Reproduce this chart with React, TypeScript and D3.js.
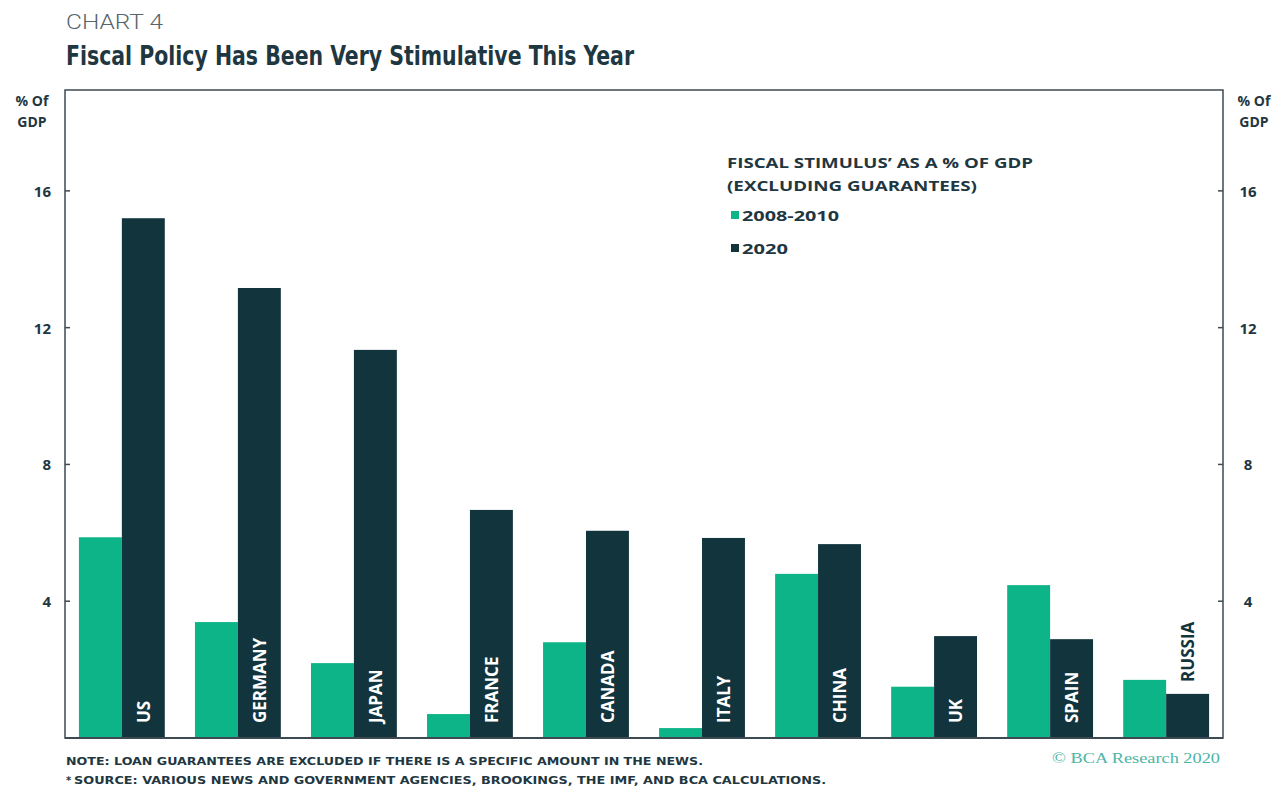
import React from "react";
import * as d3 from "d3";

const countries = ["US", "GERMANY", "JAPAN", "FRANCE", "CANADA", "ITALY", "CHINA", "UK", "SPAIN", "RUSSIA"];
const series2008 = [5.87, 3.39, 2.19, 0.7, 2.8, 0.29, 4.8, 1.5, 4.47, 1.7];
const series2020 = [15.2, 13.16, 11.35, 6.67, 6.06, 5.85, 5.67, 2.98, 2.89, 1.29];
const seriesNames = ["2008-2010", "2020"];
const yTicks = [4, 8, 12, 16];

const W = 1278;
const H = 788;
const left = 65;
const right = 1223;
const top = 90;
const bottom = 738;

const GREEN = "#0db488";
const DARK = "#11343d";
const INK = "#1f3741";
const AXIS = "#3d4a52";

const condensed = "'Liberation Sans Narrow', 'DejaVu Sans Condensed', 'Roboto', sans-serif";
const wide = "'Open Sans', 'DejaVu Sans', sans-serif";

export default function App() {
  const x = d3.scaleBand<string>().domain(countries).range([left, right]).paddingInner(0.26).paddingOuter(0.12);
  const xInner = d3.scaleBand<string>().domain(seriesNames).range([0, x.bandwidth()]).padding(0);
  const y = d3.scaleLinear().domain([0, 18.95]).range([bottom, top]);
  const colors = [GREEN, DARK];
  const data = [series2008, series2020];
  const legendLens = [97, 46];

  return (
    <svg width={W} height={H} style={{ position: "absolute", left: 0, top: 0, background: "#fff" }}>
      <rect x={0} y={0} width={W} height={H} fill="#fff" />
      {/* Titles */}
      <text x={66} y={29} fontFamily="'Roboto', 'Liberation Sans', sans-serif" fontWeight={300} fontSize={20} fill="#56646b" textLength={97} lengthAdjust="spacingAndGlyphs">CHART 4</text>
      <text x={66} y={65} fontFamily={condensed} fontWeight={700} fontSize={26} fill={INK} textLength={568} lengthAdjust="spacingAndGlyphs">Fiscal Policy Has Been Very Stimulative This Year</text>

      {/* Bars */}
      {countries.map((c, i) => (
        <g key={c}>
          {data.map((s, j) => {
            const bx = (x(c) as number) + (xInner(seriesNames[j]) as number);
            return (
              <rect key={j} x={bx} y={y(s[i])} width={xInner.bandwidth()} height={y(0) - y(s[i])} fill={colors[j]} />
            );
          })}
        </g>
      ))}

      {/* Category labels */}
      {countries.map((c, i) => {
        const cx = (x(c) as number) + (xInner("2020") as number) + xInner.bandwidth() / 2;
        const barH = y(0) - y(series2020[i]);
        const approxLen = c.length * 12 + 10;
        const inside = barH > approxLen + 20;
        const ty = inside ? y(0) - 15 : y(series2020[i]) - 12;
        return (
          <text
            key={c}
            transform={`translate(${cx},${ty}) rotate(-90)`}
            dominantBaseline="central"
            fontFamily={wide}
            fontWeight={700}
            fontSize={17}
            fill={inside ? "#ffffff" : DARK}
          >
            {c}
          </text>
        );
      })}

      {/* Frame */}
      <rect x={left} y={top} width={right - left} height={bottom - top} fill="none" stroke={AXIS} strokeWidth={1.5} />
      <line x1={left} x2={right} y1={bottom} y2={bottom} stroke={AXIS} strokeWidth={2} />

      {/* Ticks and labels */}
      {yTicks.map((t) => (
        <g key={t}>
          <line x1={left} x2={left + 5} y1={y(t)} y2={y(t)} stroke={AXIS} strokeWidth={1.5} />
          <line x1={right - 5} x2={right} y1={y(t)} y2={y(t)} stroke={AXIS} strokeWidth={1.5} />
          <text x={51} y={y(t)} textAnchor="end" dominantBaseline="central" fontFamily={wide} fontWeight={700} fontSize={15} fill={INK}>{t}</text>
          <text x={1248} y={y(t)} textAnchor="middle" dominantBaseline="central" fontFamily={wide} fontWeight={700} fontSize={15} fill={INK}>{t}</text>
        </g>
      ))}
      <text x={32} y={106} textAnchor="middle" fontFamily={wide} fontWeight={700} fontSize={14} fill={INK}>% Of</text>
      <text x={32} y={127} textAnchor="middle" fontFamily={wide} fontWeight={700} fontSize={14} fill={INK}>GDP</text>
      <text x={1254} y={106} textAnchor="middle" fontFamily={wide} fontWeight={700} fontSize={14} fill={INK}>% Of</text>
      <text x={1254} y={127} textAnchor="middle" fontFamily={wide} fontWeight={700} fontSize={14} fill={INK}>GDP</text>

      {/* Legend */}
      <text x={727} y={168} fontFamily={wide} fontWeight={700} fontSize={14} fill={INK} textLength={306} lengthAdjust="spacingAndGlyphs">FISCAL STIMULUS’ AS A % OF GDP</text>
      <text x={727} y={191} fontFamily={wide} fontWeight={700} fontSize={14} fill={INK} textLength={250} lengthAdjust="spacingAndGlyphs">(EXCLUDING GUARANTEES)</text>
      {seriesNames.map((n, j) => (
        <g key={n}>
          <rect x={731} y={211 + j * 33} width={8} height={8} fill={colors[j]} />
          <text x={742} y={221 + j * 33} fontFamily={wide} fontWeight={700} fontSize={14} fill={INK} textLength={legendLens[j]} lengthAdjust="spacingAndGlyphs">{n}</text>
        </g>
      ))}

      {/* Notes */}
      <text x={66} y={765} fontFamily={condensed} fontWeight={700} fontSize={11} fill={INK} textLength={637} lengthAdjust="spacingAndGlyphs">NOTE: LOAN GUARANTEES ARE EXCLUDED IF THERE IS A SPECIFIC AMOUNT IN THE NEWS.</text>
      <text x={66} y={784} fontFamily={condensed} fontWeight={700} fontSize={11} fill={INK}>*</text>
      <text x={74} y={784} fontFamily={condensed} fontWeight={700} fontSize={11} fill={INK} textLength={752} lengthAdjust="spacingAndGlyphs">SOURCE: VARIOUS NEWS AND GOVERNMENT AGENCIES, BROOKINGS, THE IMF, AND BCA CALCULATIONS.</text>
      <text x={1052} y={763} fontFamily="'Liberation Serif', 'DejaVu Serif', serif" fontSize={15} fill="#4db5a6" textLength={168} lengthAdjust="spacingAndGlyphs">© BCA Research 2020</text>
    </svg>
  );
}
